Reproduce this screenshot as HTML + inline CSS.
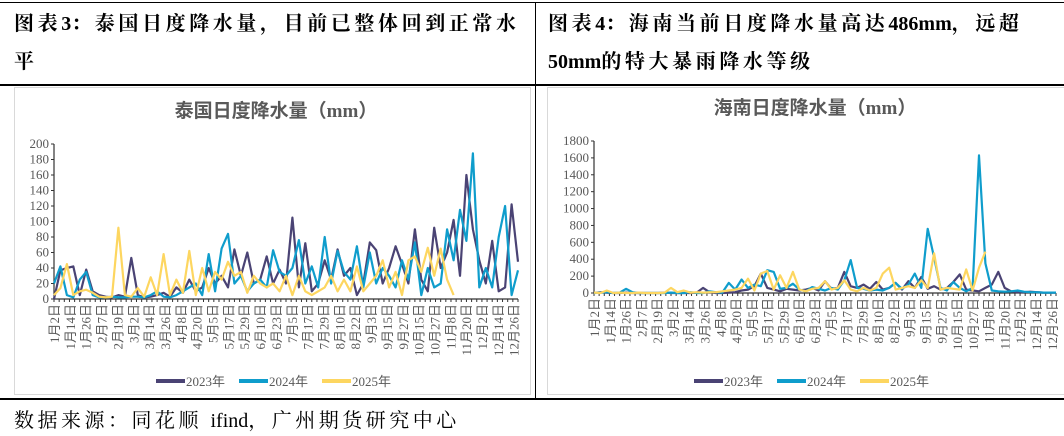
<!DOCTYPE html>
<html><head><meta charset="utf-8"><style>
body{margin:0;width:1064px;height:436px;background:#fff;overflow:hidden;position:relative;font-family:"Liberation Serif","Noto Serif CJK SC",serif}
.hl{position:absolute;background:#000}
.hdr{position:absolute;font-weight:bold;font-size:20px;line-height:38px;color:#000;letter-spacing:3.6px;white-space:nowrap}
.hdr span,.src span{letter-spacing:0}
.box{position:absolute;border:1px solid #d9d9d9;background:#fff}
svg text{font-family:"Liberation Serif","Noto Sans CJK SC",serif}
</style></head><body>
<div class="hl" style="left:0;top:2px;width:1064px;height:1px"></div>
<div class="hl" style="left:0;top:84px;width:1064px;height:1.5px"></div>
<div class="hl" style="left:0;top:398px;width:1064px;height:1.5px"></div>
<div class="hl" style="left:535px;top:2px;width:1px;height:397px"></div>
<div class="hdr" style="left:14px;top:5px">图表<span>3</span>：泰国日度降水量，目前已整体回到正常水<br>平</div>
<div class="hdr" style="left:548px;top:5px">图表<span>4</span>：海南当前日度降水量高达<span>486mm</span>，远超<br><span>50mm</span>的特大暴雨降水等级</div>
<div class="box" style="left:14px;top:87px;width:515px;height:306px"></div>
<div class="box" style="left:547px;top:87px;width:530px;height:306px"></div>
<div class="src" style="position:absolute;left:14px;top:404px;font-size:20px;letter-spacing:3.5px;color:#000;white-space:nowrap">数据来源：同花顺 <span>ifind</span>，广州期货研究中心</div>
<svg id="c1" width="1064" height="436" style="position:absolute;left:0;top:0"></svg>
<script>
const xLabels=["1月2日","1月14日","1月26日","2月7日","2月19日","3月2日","3月14日","3月26日","4月8日","4月20日","5月5日","5月17日","5月29日","6月10日","6月23日","7月5日","7月17日","7月29日","8月10日","8月22日","9月3日","9月15日","9月27日","10月15日","10月27日","11月8日","11月20日","12月2日","12月14日","12月26日"];
const seriesNames=["2023年","2024年","2025年"];
const thTicks=[0,20,40,60,80,100,120,140,160,180,200];
const th2023=[0,37,40,42,5,38,10,5,3,2,5,3,53,5,2,3,5,8,3,15,8,25,10,15,40,20,30,15,64,30,60,20,25,55,20,38,20,105,15,72,10,20,50,25,64,30,40,5,20,73,63,20,40,68,45,20,90,25,10,92,40,60,102,30,160,90,50,20,75,10,15,122,48];
const th2024=[20,42,5,2,25,35,5,2,2,3,2,2,3,3,2,5,10,3,2,5,10,15,20,5,58,10,65,84,20,30,10,20,25,15,63,35,30,40,76,20,42,15,80,20,62,35,25,68,15,60,20,40,30,15,50,25,73,5,40,15,20,90,50,115,75,188,15,40,15,80,120,5,37];
const th2025=[5,14,45,5,10,12,8,3,2,3,92,5,3,14,3,28,5,58,5,25,8,62,5,40,10,35,25,48,30,35,8,30,20,15,20,10,30,5,30,10,5,10,15,30,10,25,10,42,10,20,30,50,15,35,5,50,55,35,66,30,65,25,5];
const hnTicks=[0,200,400,600,800,1000,1200,1400,1600,1800];
const hn2023=[0,10,5,0,0,5,0,0,0,0,0,5,0,0,0,0,5,60,10,0,0,5,10,30,40,80,230,60,40,20,50,40,30,40,60,30,140,50,60,250,80,60,100,50,130,40,60,120,40,140,60,190,50,80,40,60,130,220,40,30,20,60,100,250,60,20,10,10,15,10,5,5,5];
const hn2024=[0,5,10,0,5,50,10,0,0,0,0,0,5,0,0,10,0,0,20,10,5,120,40,160,60,100,80,270,250,50,60,110,40,20,70,50,30,60,40,150,390,60,50,30,40,30,60,120,50,100,230,60,760,420,60,30,130,60,20,60,1630,350,30,20,15,20,30,15,10,10,5,5,5];
const hn2025=[5,0,30,0,5,0,0,5,0,0,0,5,60,10,30,5,10,5,10,10,20,30,40,60,170,30,230,260,40,210,60,250,40,20,50,60,140,40,60,150,40,20,60,30,60,230,300,40,60,80,60,150,60,470,40,60,50,40,280,30,300,490];
const colors=["#4a4374","#0f9dcc","#fdd660"];
const svg=document.getElementById('c1');
const NS="http://www.w3.org/2000/svg";
function mk(tag,attrs,parent){const e=document.createElementNS(NS,tag);for(const k in attrs)e.setAttribute(k,attrs[k]);parent.appendChild(e);return e;}
function chart(o){
  const g=mk('g',{},svg);
  
  
  const ymax=o.ticks[o.ticks.length-1];
  const y=v=>o.y0-(v/ymax)*(o.y0-o.y1);
  const x=d=>o.x0+d/360*(o.x1-o.x0);
  const t=mk('text',{x:(o.x0+o.x1)/2-10,y:o.ty,'text-anchor':'middle','font-size':19,'font-weight':'bold',fill:'#595959'},g);
  t.textContent=o.title;
  
  
  o.ticks.forEach(v=>{
    const l=mk('text',{x:o.x0-5,y:y(v)+4,'text-anchor':'end','font-size':13,fill:'#595959'},g);
    l.textContent=v;
    
    
    mk('line',{x1:o.x0-3,x2:o.x0,y1:y(v),y2:y(v),stroke:'#333','stroke-width':1},g);
  });
  mk('line',{x1:o.x0,x2:o.x0,y1:o.y1,y2:o.y0,stroke:'#333','stroke-width':1.2},g);
  mk('line',{x1:o.x0,x2:o.x1,y1:o.y0,y2:o.y0,stroke:'#333','stroke-width':1.2},g);
  for(let d=0;d<=360;d+=4)mk('line',{x1:x(d),x2:x(d),y1:o.y0,y2:o.y0+3,stroke:'#333','stroke-width':1},g);
  xLabels.forEach((s,i)=>{
    const px=x(i*12.3)+5,py=o.y0+5;
    const l=mk('text',{x:px,y:py,'text-anchor':'end','font-size':13,fill:'#595959',transform:`rotate(-90 ${px} ${py})`},g);
    l.textContent=s;
    
    
  });
  o.series.forEach((arr,si)=>{
    const pts=arr.map((v,i)=>x(i*5).toFixed(1)+','+y(v).toFixed(1)).join(' ');
    const p=mk('polyline',{points:pts,fill:'none',stroke:colors[si],'stroke-width':2.2,'stroke-linejoin':'round'},g);
    
    
  });
  seriesNames.forEach((s,i)=>{
    const lx=o.lx+i*83;
    const ln=mk('line',{x1:lx,x2:lx+29,y1:o.ly,y2:o.ly,stroke:colors[i],'stroke-width':4},g);
    
    
    const lt=mk('text',{x:lx+30,y:o.ly+5,'font-size':13,fill:'#595959'},g);
    lt.textContent=s;
    
    
  });
}
chart({name:'thailand-chart',title:'泰国日度降水量（mm）',ticks:thTicks,series:[th2023,th2024,th2025],x0:54,x1:518,y0:299,y1:144,ty:117,lx:156,ly:381});
chart({name:'hainan-chart',title:'海南日度降水量（mm）',ticks:hnTicks,series:[hn2023,hn2024,hn2025],x0:594,x1:1056,y0:293,y1:141,ty:114,lx:694,ly:381});
</script>
</body></html>
